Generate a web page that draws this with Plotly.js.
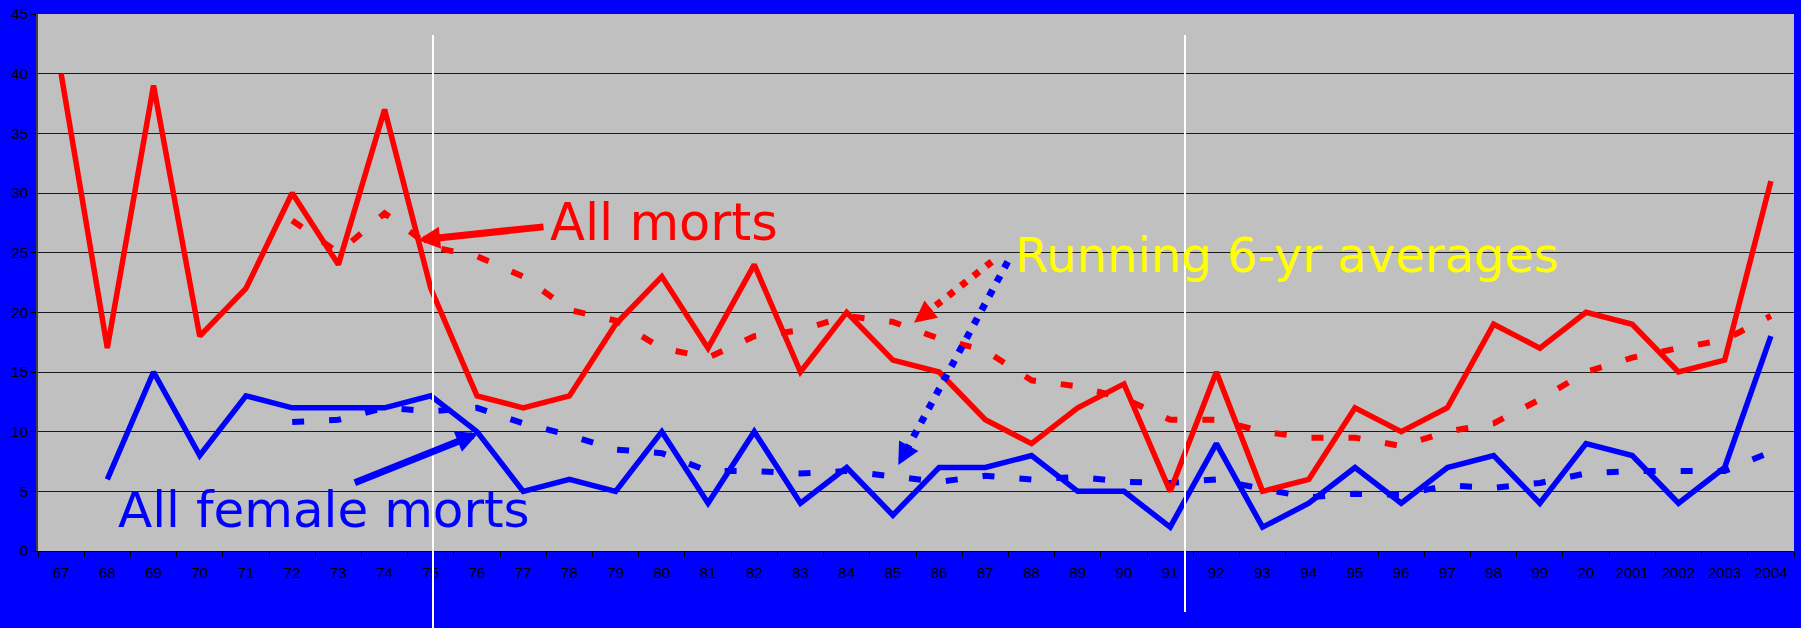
<!DOCTYPE html>
<html>
<head>
<meta charset="utf-8">
<script src="https://cdn.plot.ly/plotly-3.0.1.min.js"></script>
<style>
  html, body { margin: 0; padding: 0; background: #0000FF; }
  #chart { width: 1801px; height: 628px; }
</style>
</head>
<body>
<div id="chart"></div>
<script>
// ---- data ----
const years = ["67","68","69","70","71","72","73","74","75","76","77","78","79","80","81","82","83","84","85","86","87","88","89","90","91","92","93","94","95","96","97","98","99","20","2001","2002","2003","2004"];

const allMorts = [40,17,39,18,22,30,24,37,22,13,12,13,19,23,17,24,15,20,16,15,11,9,12,14,5,15,5,6,12,10,12,19,17,20,19,15,16,31];

const femaleMorts = [null,6,15,8,13,12,12,12,13,10,5,6,5,10,4,10,4,7,3,7,7,8,5,5,2,9,2,4,7,4,7,8,4,9,8,4,7,18];

const allMortsAvg = [null,null,null,null,null,27.7,25.0,28.3,25.5,24.7,23.0,20.2,19.3,17.0,16.2,18.0,18.5,19.7,19.2,17.8,16.8,14.3,13.8,12.8,11.0,11.0,10.0,9.5,9.5,8.8,10.0,10.7,12.7,15.0,16.2,17.0,17.7,19.7];

const femaleMortsAvg = [null,null,null,null,null,10.8,11.0,12.0,11.7,12.0,10.7,9.7,8.5,8.2,6.7,6.7,6.5,6.7,6.3,5.8,6.3,6.0,6.2,5.8,5.7,6.0,5.2,4.5,4.8,4.7,5.5,5.3,5.7,6.5,6.7,6.7,6.7,8.3];

const labelAll = "All morts";
const labelFemale = "All female morts";
const labelAvg = "Running 6-yr averages";

// ---- traces ----
const traces = [
  { x: years, y: allMortsAvg, type: "scatter", mode: "lines",
    line: { color: "#FF0000", width: 6, dash: "12px,25px" }, hoverinfo: "skip" },
  { x: years, y: femaleMortsAvg, type: "scatter", mode: "lines",
    line: { color: "#0000FF", width: 6, dash: "12px,25px" }, hoverinfo: "skip" },
  { x: years, y: allMorts, type: "scatter", mode: "lines",
    line: { color: "#FF0000", width: 5.5 }, hoverinfo: "skip" },
  { x: years, y: femaleMorts, type: "scatter", mode: "lines",
    line: { color: "#0000FF", width: 5.5 }, hoverinfo: "skip", connectgaps: false }
];

const W = 1801, H = 628;
const M = { l: 38, r: 7, t: 14, b: 77 };
const PW = W - M.l - M.r, PH = H - M.t - M.b;
const px = v => (v - M.l) / PW;      // pixel -> paper x
const py = v => (H - M.b - v) / PH;  // pixel -> paper y

const layout = {
  width: W, height: H,
  margin: { l: M.l, r: M.r, t: M.t, b: M.b, pad: 0 },
  paper_bgcolor: "#0000FF",
  plot_bgcolor: "#C0C0C0",
  showlegend: false,
  hovermode: false,
  font: { family: "Liberation Sans, Arial, sans-serif", size: 15, color: "#000000" },
  xaxis: {
    type: "category",
    range: [-0.5, years.length - 0.5],
    showgrid: false,
    showline: true, linecolor: "#000000", linewidth: 1,
    ticks: "outside", tickson: "boundaries", ticklen: 5, tickcolor: "#000000", tickwidth: 1,
    ticklabelstandoff: 8,
    tickfont: { family: "Liberation Sans, Arial, sans-serif", size: 15, color: "#000000" },
    zeroline: false, fixedrange: true
  },
  yaxis: {
    range: [0, 45], dtick: 5, tick0: 0,
    showgrid: true, gridcolor: "#1a1a1a", gridwidth: 1,
    showline: true, linecolor: "#404040", linewidth: 2,
    ticks: "outside", ticklen: 5, tickcolor: "#000000", tickwidth: 1,
    tickfont: { family: "Liberation Sans, Arial, sans-serif", size: 15, color: "#000000" },
    zeroline: false, fixedrange: true
  },
  shapes: [
    // white vertical markers
    { type: "line", xref: "paper", yref: "paper", x0: px(433), x1: px(433), y0: py(35), y1: py(628),
      line: { color: "#FFFFFF", width: 2 }, layer: "above" },
    { type: "line", xref: "paper", yref: "paper", x0: px(1185), x1: px(1185), y0: py(35), y1: py(612),
      line: { color: "#FFFFFF", width: 2 }, layer: "above" },
    // dotted arrow shafts
    { type: "line", xref: "paper", yref: "paper", x0: px(991.7), y0: py(261.7), x1: px(928.1), y1: py(311.6),
      line: { color: "#FF0000", width: 7, dash: "7px,9px" }, layer: "above" },
    { type: "line", xref: "paper", yref: "paper", x0: px(1007.7), y0: py(261.7), x1: px(906.8), y1: py(449.2),
      line: { color: "#0000FF", width: 7, dash: "7px,9px" }, layer: "above" }
  ],
  annotations: [
    { text: labelAll, xref: "paper", yref: "paper", x: px(548), y: py(222), xanchor: "left", yanchor: "middle",
      showarrow: false, font: { family: "DejaVu Sans", size: 51, color: "#FF0000" } },
    { text: labelAvg, xref: "paper", yref: "paper", x: px(1013), y: py(255), xanchor: "left", yanchor: "middle",
      showarrow: false, font: { family: "DejaVu Sans", size: 48, color: "#FFFF00" } },
    { text: labelFemale, xref: "paper", yref: "paper", x: px(116), y: py(510), xanchor: "left", yanchor: "middle",
      showarrow: false, font: { family: "DejaVu Sans", size: 50, color: "#0000FF" } },
    // solid arrows
    { text: "", xref: "paper", yref: "paper", x: px(418), y: py(240), ax: 127, ay: -13.3,
      showarrow: true, arrowhead: 2, arrowwidth: 7, arrowsize: 0.63, arrowcolor: "#FF0000", standoff: 0 },
    { text: "", xref: "paper", yref: "paper", x: px(478.3), y: py(433.3), ax: -125, ay: 50,
      showarrow: true, arrowhead: 2, arrowwidth: 7, arrowsize: 0.63, arrowcolor: "#0000FF", standoff: 0 },
    // dotted arrow heads
    { text: "", xref: "paper", yref: "paper", x: px(914), y: py(322.7), ax: 18.9, ay: -14.8,
      showarrow: true, arrowhead: 2, arrowwidth: 6, arrowsize: 0.73, arrowcolor: "#FF0000", standoff: 0 },
    { text: "", xref: "paper", yref: "paper", x: px(898.3), y: py(465), ax: 11.4, ay: -21.1,
      showarrow: true, arrowhead: 2, arrowwidth: 6, arrowsize: 0.73, arrowcolor: "#0000FF", standoff: 0 }
  ]
};

Plotly.newPlot("chart", traces, layout, { displayModeBar: false, staticPlot: true });
</script>
</body>
</html>
